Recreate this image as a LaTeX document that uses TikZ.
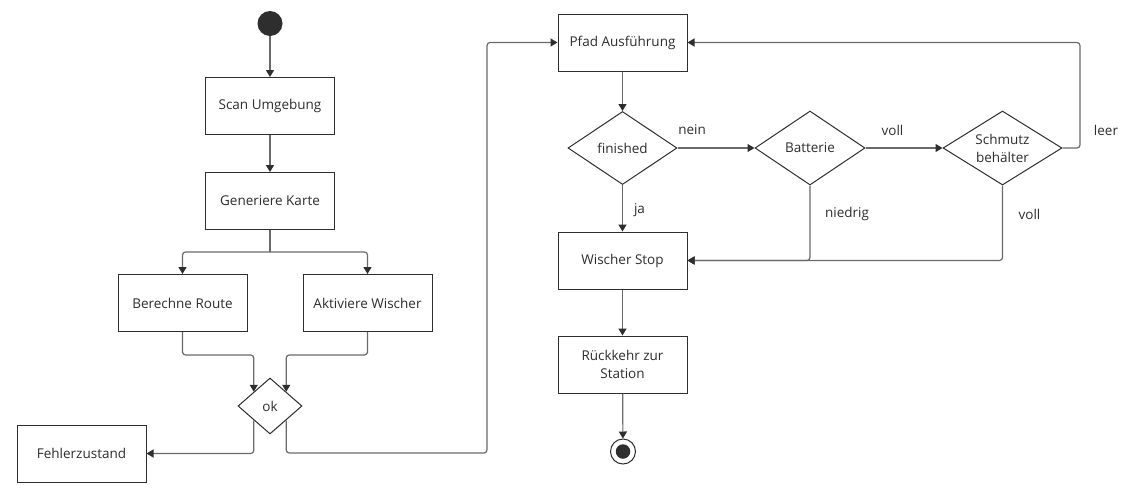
\documentclass[tikz,border=0pt]{standalone}
\usepackage{fontspec}
\setmainfont{Open Sans}
\usetikzlibrary{shapes.geometric,arrows.meta,calc}
\definecolor{ink}{HTML}{2E2E2E}
\definecolor{wire}{HTML}{6A6A6A}
\begin{document}
\begin{tikzpicture}[x=1pt,y=-1pt,
  every node/.style={font=\fontsize{13.5}{18}\selectfont, text=ink},
  act/.style={draw=ink, line width=1pt, rectangle, minimum width=129, minimum height=57, inner sep=0, align=center},
  dia/.style={draw=ink, line width=1pt, diamond, inner sep=0},
  conn/.style={draw=wire, line width=1.2pt, rounded corners=3pt, -{Triangle[length=7pt,width=8pt,color=ink]}},
  plain/.style={draw=wire, line width=1.2pt, rounded corners=3pt},
  lbl/.style={inner sep=0}]
\useasboundingbox (0,0) rectangle (1130,488);
\fill[white] (0,0) rectangle (1130,488);

% left part
\node[circle, fill=ink, minimum size=25, inner sep=0] (start) at (270,23.5) {};
\node[act] (scan) at (270,106) {Scan Umgebung};
\node[act] (gen) at (270,201) {Generiere Karte};
\node[act] (ber) at (182.5,303) {Berechne Route};
\node[act] (akt) at (367.5,303) {Aktiviere Wischer};
\node[dia, minimum width=64, minimum height=56] (ok) at (270,406) {};
\node[lbl] at (ok) {ok};
\node[act] (fehl) at (81.5,453.5) {Fehlerzustand};

% right part
\node[act] (pfad) at (622.5,42.5) {Pfad Ausführung};
\node[dia, minimum width=109, minimum height=73] (fin) at (622.5,148) {};
\node[lbl] at (fin) {finished};
\node[dia, minimum width=110, minimum height=74] (bat) at (810,148) {};
\node[lbl] at (bat) {Batterie};
\node[dia, minimum width=119, minimum height=74] (sb) at (1002.5,148) {};
\node[lbl, align=center] at (sb) {Schmutz\\behälter};
\node[act] (ws) at (622.5,260.5) {Wischer Stop};
\node[act] (rk) at (622.5,364.5) {Rückkehr zur\\Station};
\node[circle, draw=ink, line width=1pt, minimum size=25, inner sep=0] (end) at (623,451.5) {};
\node[circle, fill=ink, minimum size=14.5, inner sep=0] at (end) {};

\coordinate (split) at (270,252);
\coordinate (loop) at (487,453);
\coordinate (back) at (1080,42.5);

% connectors left
\draw[conn] (start) -- (scan);
\draw[conn] (scan) -- (gen);
\draw[plain] (gen.south) -- (split);
\draw[conn] (split) -| (ber.north);
\draw[conn] (split) -| (akt.north);
\draw[conn] (ber.south) |- ($(ber.south)+(0,23)$) -| (ok.north west);
\draw[conn] (akt.south) |- ($(akt.south)+(0,23)$) -| (ok.north east);
\draw[conn] (ok.south west) |- (fehl.east);
\draw[conn] (ok.south east) |- (loop) |- (pfad.west);

% connectors right
\draw[conn] (pfad) -- (fin);
\draw[conn] (fin.east) -- node[lbl, pos=0.19, yshift=18] {nein} (bat.west);
\draw[conn] (bat.east) -- node[lbl, pos=0.35, yshift=18] {voll} (sb.west);
\draw[conn] (sb.east) -| node[lbl, pos=0.5, xshift=26, yshift=18] {leer} (back) -- (pfad.east);
\draw[conn] (fin.south) -- node[lbl, pos=0.54, xshift=17] {ja} (ws.north);
\draw[conn] (bat.south) |- node[lbl, pos=0.19, xshift=37] {niedrig} (ws.east);
\draw[conn] (sb.south) |- node[lbl, pos=0.19, xshift=27] {voll} (ws.east);
\draw[conn] (ws) -- (rk);
\draw[conn] (rk) -- (end);
\end{tikzpicture}
\end{document}
